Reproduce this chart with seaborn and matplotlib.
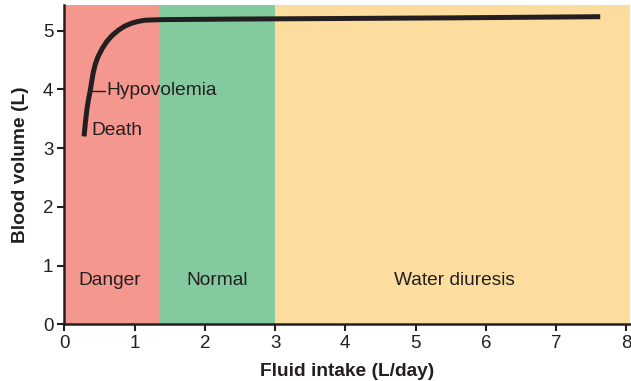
import matplotlib
matplotlib.use("Agg")
import matplotlib.pyplot as plt
import seaborn as sns
import pandas as pd

# Blood volume response to daily fluid intake
fluid_intake = [0.28, 0.30, 0.32, 0.345, 0.37, 0.39, 0.41, 0.44, 0.48, 0.54, 0.60,
                0.68, 0.77, 0.86, 0.96, 1.05, 1.15, 1.39, 2.5, 4.0, 5.5, 7.63]
blood_volume = [3.20, 3.44, 3.65, 3.84, 3.99, 4.14, 4.28, 4.43, 4.56, 4.70, 4.81,
                4.92, 5.01, 5.08, 5.13, 5.16, 5.18, 5.19, 5.20, 5.21, 5.22, 5.24]

# Intake zones
zone_names = ["Danger", "Normal", "Water diuresis"]
zone_bounds = [(0.0, 1.35), (1.35, 3.0), (3.0, 8.05)]
zone_colors = ["#F4978E", "#83CB9E", "#FDDD9D"]
zone_label_x = [0.65, 2.18, 5.55]

x_ticks = [0, 1, 2, 3, 4, 5, 6, 7, 8]
y_ticks = [0, 1, 2, 3, 4, 5]

ink = "#231F20"

sns.set_theme(style="ticks")
plt.rcParams["font.family"] = ["Liberation Sans", "DejaVu Sans"]
plt.rcParams["text.color"] = ink
plt.rcParams["axes.labelcolor"] = ink
plt.rcParams["xtick.color"] = ink
plt.rcParams["ytick.color"] = ink

fig = plt.figure(figsize=(6.31, 3.81), dpi=100)
ax = fig.add_axes([0.102, 0.149, 0.896, 0.838])

for (x0, x1), col, name, lx in zip(zone_bounds, zone_colors, zone_names, zone_label_x):
    ax.axvspan(x0, x1, color=col, lw=0, zorder=0)
    ax.text(lx, 0.75, name, ha="center", va="center", fontsize=13.8, color=ink)

df = pd.DataFrame({"intake": fluid_intake, "volume": blood_volume})
sns.lineplot(data=df, x="intake", y="volume", ax=ax, color=ink, lw=3.6,
             sort=False, estimator=None, solid_capstyle="butt",
             solid_joinstyle="round", zorder=3)

# Annotations along the curve
ax.plot([0.39, 0.58], [3.98, 3.98], color=ink, lw=1.0, zorder=2)
ax.text(0.60, 3.98, "Hypovolemia", ha="left", va="center", fontsize=13.8, color=ink)
ax.text(0.38, 3.30, "Death", ha="left", va="center", fontsize=13.8, color=ink)

ax.set_xlim(0, 8.05)
ax.set_ylim(0, 5.44)
ax.set_xticks(x_ticks)
ax.set_yticks(y_ticks)
ax.tick_params(axis="both", labelsize=13.5, length=5, width=1.5, color=ink, pad=3)
ax.set_xlabel("Fluid intake (L/day)", fontsize=13.8, fontweight="bold", labelpad=8)
ax.set_ylabel("Blood volume (L)", fontsize=13.8, fontweight="bold", labelpad=10)

sns.despine(ax=ax)
for side in ("left", "bottom"):
    ax.spines[side].set_color(ink)
    ax.spines[side].set_linewidth(1.8)

fig.savefig("out.png", dpi=100)
